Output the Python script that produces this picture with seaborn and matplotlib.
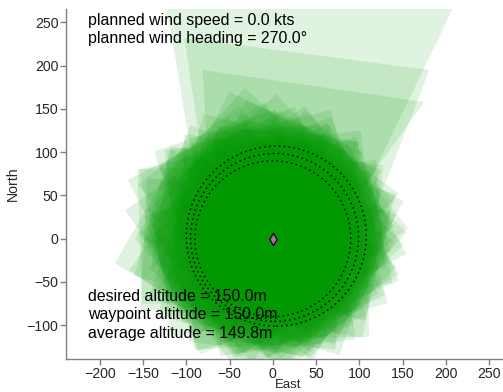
import numpy as np
import matplotlib
matplotlib.use("Agg")
import matplotlib.pyplot as plt
from matplotlib.patches import Circle
import seaborn as sns
import pandas as pd

# ---- data ----
# camera footprint samples around the orbit (center angle deg, center radius m,
# half size m, footprint rotation deg)
fp_angle = [0, 4, 8, 12, 16, 20, 24, 28, 32, 36, 40, 44, 48, 52, 56,
            60, 64, 68, 72, 76, 80, 84, 88, 92, 96, 100, 104, 108, 112, 116,
            120, 124, 128, 132, 136, 140, 144, 148, 152, 156, 160, 164, 168, 172, 176,
            180, 184, 188, 192, 196, 200, 204, 208, 212, 216, 220, 224, 228, 232, 236,
            240, 244, 248, 252, 256, 260, 264, 268, 272, 276, 280, 284, 288, 292, 296,
            300, 304, 308, 312, 316, 320, 324, 328, 332, 336, 340, 344, 348, 352, 356]
fp_radius = [60, 56, 63, 58, 61, 66, 57, 62, 59, 64, 55, 60, 65, 58, 62,
             59, 64, 57, 62, 66, 58, 63, 60, 67, 61, 58, 70, 60, 72, 62,
             68, 61, 70, 63, 72, 64, 67, 62, 74, 66, 69, 64, 72, 67, 76,
             76, 64, 74, 66, 68, 67, 61, 65, 60, 64, 62, 58, 63, 60, 62,
             58, 62, 57, 61, 59, 63, 56, 60, 58, 62, 57, 61, 59, 55, 60,
             57, 61, 56, 60, 58, 54, 59, 62, 56, 60, 57, 61, 55, 59, 58]
fp_half = [66, 70, 64, 72, 68, 63, 74, 65, 69, 67, 71, 64, 68, 73, 63,
           69, 66, 72, 67, 70, 65, 74, 68, 71, 64, 72, 76, 65, 76, 73,
           72, 65, 74, 67, 74, 69, 71, 66, 76, 70, 75, 68, 72, 76, 78,
           78, 68, 76, 66, 72, 64, 69, 72, 65, 68, 71, 63, 67, 70, 66,
           64, 68, 62, 70, 66, 63, 68, 65, 71, 64, 67, 62, 69, 65, 68,
           63, 67, 64, 70, 62, 66, 69, 64, 68, 63, 67, 65, 70, 64, 66]
fp_rot = [12, 47, 73, 28, 61, 5, 39, 82, 17, 54, 33, 70, 8, 44, 88,
          22, 58, 36, 79, 14, 50, 66, 3, 41, 85, 25, 63, 10, 48, 76,
          31, 57, 19, 84, 38, 6, 69, 45, 27, 81, 13, 52, 35, 74, 2,
          60, 42, 87, 20, 55, 30, 71, 9, 46, 78, 24, 64, 16, 51, 37,
          67, 4, 29, 83, 43, 11, 56, 75, 21, 49, 86, 34, 7, 62, 40,
          18, 72, 53, 1, 65, 26, 80, 45, 15, 59, 32, 77, 23, 68, 43]

# large pitched-up footprints (corner estimates, m)
big_fp_x = [[-78, 80, 234, -131],
            [-68, 105, 181, -102],
            [-70, 61, 175, -81]]
big_fp_y = [[0, 0, 320, 320],
            [0, 0, 195, 232],
            [0, 0, 158, 195]]

# flown orbits (dotted)
orbit_cx = [0, 2, 4]
orbit_cy = [0, 1.5, 3]
orbit_r = [90, 97, 104]

info_top = ["planned wind speed = 0.0 kts", "planned wind heading = 270.0\u00b0"]
info_bottom = ["desired altitude = 150.0m", "waypoint altitude = 150.0m",
               "average altitude = 149.8m"]
xticks = [-200, -150, -100, -50, 0, 50, 100, 150, 200, 250]
yticks = [-100, -50, 0, 50, 100, 150, 200, 250]

# ---- figure ----
sns.set_theme(style="ticks")
plt.rcParams["font.family"] = ["Liberation Sans", "DejaVu Sans"]

fig = plt.figure(figsize=(5.03, 3.92), dpi=100)
ax = fig.add_axes([66 / 503, 33 / 392, 437 / 503, 350 / 392])

green = "#009900"
for a, r, h, rot in zip(fp_angle, fp_radius, fp_half, fp_rot):
    cx = r * np.cos(np.radians(a))
    cy = r * np.sin(np.radians(a))
    local = np.array([[-h, -h], [h, -h], [h, h], [-h, h]], dtype=float)
    t = np.radians(rot)
    R = np.array([[np.cos(t), -np.sin(t)], [np.sin(t), np.cos(t)]])
    pts = local @ R.T + [cx, cy]
    ax.fill(pts[:, 0], pts[:, 1], color=green, alpha=0.12, lw=0)

for xs, ys in zip(big_fp_x, big_fp_y):
    ax.fill(xs, ys, color=green, alpha=0.12, lw=0)

for cx, cy, r in zip(orbit_cx, orbit_cy, orbit_r):
    ax.add_patch(Circle((cx, cy), r, fill=False, ls=(0, (1, 2.2)), lw=1.1,
                        ec="black"))

home = pd.DataFrame({"east": [0.0], "north": [0.0]})
sns.scatterplot(data=home, x="east", y="north", marker="d", s=40,
                color="#e040e0", edgecolor="black", linewidth=0.8, ax=ax, zorder=5)
sns.scatterplot(data=home, x="east", y="north", marker="o", s=5,
                color="#30d030", linewidth=0, ax=ax, zorder=6)

ax.set_xlim(-239, 266)
ax.set_ylim(-139, 265.5)
ax.set_xticks(xticks)
ax.set_yticks(yticks)
ax.tick_params(axis="both", labelsize=10.2, length=4, width=1, color="#808080",
               direction="out", pad=1.5)
for s in ["top", "right"]:
    ax.spines[s].set_visible(False)
for s in ["left", "bottom"]:
    ax.spines[s].set_color("#808080")
    ax.spines[s].set_linewidth(1)
ax.set_xlabel("East", fontsize=9.5)
ax.xaxis.set_label_coords((288 - 66) / 437, -(379.5 - 359) / 350)
ax.set_ylabel("North", fontsize=10.2, labelpad=5)

x0 = (88 - 66) / 437
for txt, yb in zip(info_top, [25, 43.5]):
    ax.text(x0, (359 - yb) / 350, txt, transform=ax.transAxes, fontsize=11.4,
            va="baseline", ha="left", color="black")
for txt, yb in zip(info_bottom, [301, 319.5, 338]):
    ax.text(x0, (359 - yb) / 350, txt, transform=ax.transAxes, fontsize=11.4,
            va="baseline", ha="left", color="black")

fig.savefig("out.png", dpi=100)
